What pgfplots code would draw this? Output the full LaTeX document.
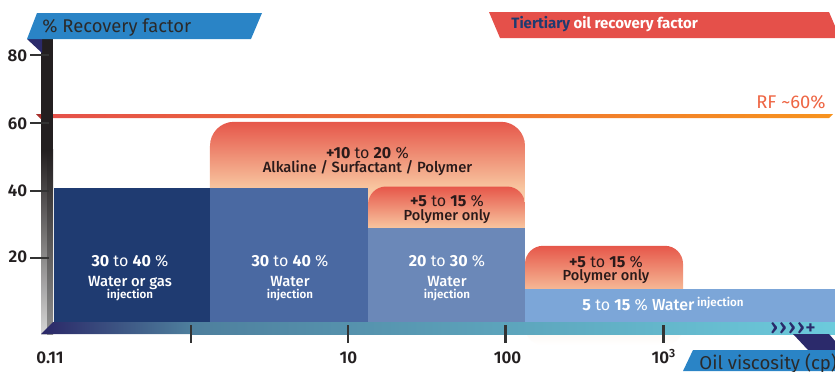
\documentclass[border=0pt]{standalone}
\usepackage{pgfplots}
\pgfplotsset{compat=1.18}
\usepackage{fontspec}
\setmainfont{Fira Sans}
\newfontfamily\med{Fira Sans Medium}
\newfontfamily\semi{Fira Sans SemiBold}
\newcommand\fs[1]{\fontsize{#1}{#1}\selectfont}
\newcommand\rng[2]{\textbf{#1} to \textbf{#2} \%}

\definecolor{bannerblue}{HTML}{2A84C6}
\definecolor{bannerred}{HTML}{E5504A}
\definecolor{navy}{HTML}{2B2A6B}
\definecolor{tertnavy}{HTML}{1F3B70}
\definecolor{titletext}{HTML}{2A2A2A}
\definecolor{axisdark}{HTML}{231F20}
\definecolor{tickdark}{HTML}{333333}
\definecolor{barA}{HTML}{1F3B71}
\definecolor{barB}{HTML}{4A69A2}
\definecolor{barC}{HTML}{6B88B8}
\definecolor{barD}{HTML}{7CA6D8}
\definecolor{boxtop}{HTML}{E6574A}
\definecolor{boxpeach}{HTML}{F8C6A0}
\definecolor{boxtext}{HTML}{2A1A1A}
\definecolor{rfred}{HTML}{E5504A}
\definecolor{rforange}{HTML}{F7931E}
\definecolor{rfdark}{HTML}{A8302C}
\definecolor{rftext}{HTML}{EE6644}
\definecolor{gnavy}{HTML}{2A2767}
\definecolor{gmid}{HTML}{4E7F9D}
\definecolor{gcyan}{HTML}{6CCBDC}

\begin{document}
\begin{tikzpicture}
\useasboundingbox (0,0) rectangle (417.5pt,-185.5pt);
\clip (0,0) rectangle (417.5pt,-185.5pt);
\begin{axis}[at={(0,0)}, anchor=north west,
  width=417.5pt, height=185.5pt, scale only axis,
  xmode=log, xmin=0.06127, xmax=12272,
  ymin=-13.65, ymax=96.44,
  hide axis, clip=false]
% tertiary recovery increments (bottoms run under the waterflood bars)
\addplot[draw=none, rounded corners=12pt, top color=boxtop, bottom color=white, middle color=boxpeach]
  coordinates {(1.32,20.9) (1.32,60.3) (132,60.3) (132,20.9)} --cycle;
\addplot[draw=none, rounded corners=9pt, top color=boxtop, bottom color=white, middle color=boxpeach]
  coordinates {(13.3,16.3) (13.3,41.1) (132,41.1) (132,16.3)} --cycle;
\addplot[draw=none, rounded corners=9pt, top color=boxtop, bottom color=white, middle color=boxpeach]
  coordinates {(132,-5.9) (132,23.5) (1330,23.5) (1330,-5.9)} --cycle;
% primary / secondary recovery by viscosity range
\addplot[draw=none, fill=barA] coordinates {(0.135,0) (0.135,40.6) (1.32,40.6) (1.32,0)} --cycle;
\addplot[draw=none, fill=barB] coordinates {(1.32,0) (1.32,40.6) (13.3,40.6) (13.3,0)} --cycle;
\addplot[draw=none, fill=barC] coordinates {(13.3,0) (13.3,28.7) (132,28.7) (132,0)} --cycle;
\addplot[draw=none, fill=barD] coordinates {(132,-3) (132,10.7) (12300,10.7) (12300,-3)} --cycle;
% overall recovery factor line
\addplot[draw=none, left color=rfred, right color=rforange]
  coordinates {(0.1115,61.4) (0.1115,62.6) (11920,62.6) (11240,61.4)} --cycle;
\end{axis}

\begin{scope}[x=0.5pt, y=-0.5pt]
% faint wash under the band
\fill[white, opacity=0.55] (526,334) rectangle (682,346);
% vertical post
\fill[axisdark] (41,39) rectangle (53,150);
\shade[top color=axisdark, bottom color={rgb,255:red,214;green,214;blue,214}] (41,149.5) rectangle (47.2,334);
\shade[top color=axisdark, bottom color={rgb,255:red,143;green,143;blue,143}] (47,149.5) rectangle (53,334);
% horizontal viscosity band
\shade[left color=gnavy, right color=gmid] (41,334) -- (53,322) -- (191.5,322) -- (191.5,334) -- cycle;
\shade[left color=gmid, right color=gcyan] (191,322) rectangle (835,334);
% y ticks
\foreach \yy/\lab/\bl in {55.3/80/61.7, 122.7/60/129.3, 190.7/40/196.7, 257.7/20/262.7}{
  \draw[tickdark, line width=1pt] (30,\yy) -- (49,\yy);
  \node[anchor=base east, text=axisdark, inner sep=0pt] at (27.5,\bl) {\fs{8.5pt}\semi \lab};
}
% x ticks
\foreach \xx in {191,348.3,505.5,663.5}{
  \draw[tickdark, line width=1.1pt] (\xx,325) -- (\xx,343);
}
\node[anchor=base, text=axisdark, inner sep=0pt] at (50,363.3) {\fs{8.5pt}\semi 0.11};
\node[anchor=base, text=axisdark, inner sep=0pt] at (348.3,363.3) {\fs{8.5pt}\semi 10};
\node[anchor=base, text=axisdark, inner sep=0pt] at (507.5,363.3) {\fs{8.5pt}\semi 100};
\node[anchor=base, text=axisdark, inner sep=0pt] at (664,363.3) {\fs{8.5pt}\semi 10\textsuperscript{3}};
\node[text=navy, inner sep=0pt] at (793,328.5) {\fs{11pt}\med›\kern0.6pt›\kern0.6pt›\kern0.6pt›\kern0.3pt\fs{10pt}+};
% corner banners
\fill[navy] (27,39) -- (42,39) -- (42,53) -- cycle;
\fill[bannerblue] (37,13) -- (262,13) -- (251,39) -- (27,39) -- cycle;
\node[anchor=base west, text=titletext, inner sep=0pt] at (42,32) {\fs{9.2pt}\% Recovery factor};
\fill[bannerred] (489,12) -- (829,12) -- (835,26) -- (835,38) -- (500,38) -- cycle;
\node[anchor=base west, inner sep=0pt] at (511,28.3) {\fs{7.5pt}\bfseries\textcolor{tertnavy}{Tiertiary} \textcolor{white}{oil recovery factor}};
\fill[navy] (793,334) -- (829,334) -- (835,341) -- (835,350) -- (808,350) -- cycle;
\fill[bannerblue] (693,350) -- (835,350) -- (835,371) -- (683,371) -- cycle;
\node[anchor=base west, text=titletext, inner sep=0pt] at (699,369) {\fs{9.3pt}Oil viscosity (cp)};
% recovery factor line label
\fill[rfdark] (36,114) -- (41,114) -- (41,119) -- cycle;
\node[anchor=base east, text=rftext, inner sep=0pt] at (826,108.3) {\fs{9.2pt}RF \textasciitilde60\%};
% tertiary labels
\node[anchor=base, text=boxtext, inner sep=0pt] at (367.5,158.3) {\fs{8pt}\textbf{+10} to \textbf{20} \%};
\node[anchor=base, text=boxtext, inner sep=0pt] at (367.5,172.3) {\fs{7.4pt}\med Alkaline / Surfactant / Polymer};
\node[anchor=base, text=boxtext, inner sep=0pt] at (447,206.7) {\fs{8pt}\textbf{+5} to \textbf{15} \%};
\node[anchor=base, text=boxtext, inner sep=0pt] at (447,220.7) {\fs{7.3pt}\med Polymer only};
\node[anchor=base, text=boxtext, inner sep=0pt] at (606,267.3) {\fs{8pt}\textbf{+5} to \textbf{15} \%};
\node[anchor=base, text=boxtext, inner sep=0pt] at (606,280.5) {\fs{7.3pt}\med Polymer only};
% waterflood labels
\begin{scope}[every node/.style={anchor=base, text=white, inner sep=0pt}]
\node at (130,266) {\fs{8pt}\rng{30}{40}};
\node at (130,286) {\fs{7.4pt}\med Water or gas};
\node at (130,298.3) {\fs{5.8pt}\semi injection};
\node at (290,266) {\fs{8pt}\rng{30}{40}};
\node at (290,286) {\fs{7.4pt}\med Water};
\node at (290,298.3) {\fs{5.8pt}\semi injection};
\node at (447,266) {\fs{8pt}\rng{20}{30}};
\node at (447,286) {\fs{7.4pt}\med Water};
\node at (447,298.3) {\fs{5.8pt}\semi injection};
\node at (663,310.5) {\fs{8pt}\rng{5}{15} {\med Water}\,\raisebox{2.2pt}{\fs{5.8pt}\semi injection}};
\end{scope}
\end{scope}
\end{tikzpicture}
\end{document}
